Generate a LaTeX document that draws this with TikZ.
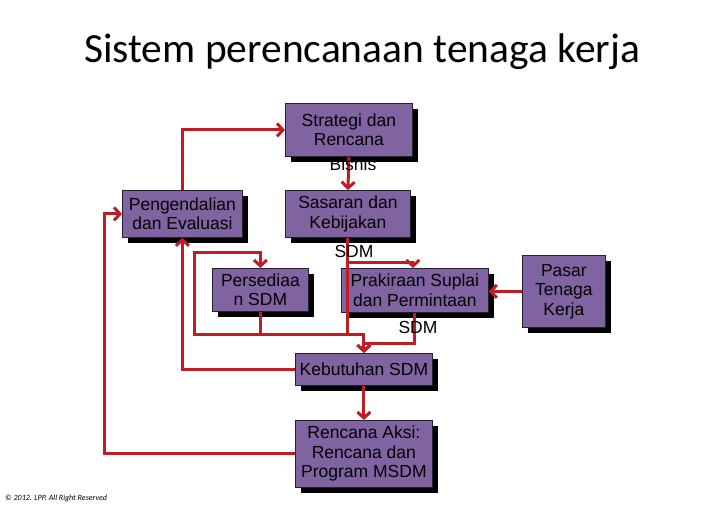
\documentclass[tikz,border=0pt]{standalone}
\usepackage{fontspec}
\setmainfont{Liberation Sans}
\newfontfamily\titlefont{Carlito}
\usetikzlibrary{arrows.meta,shadows}
\definecolor{boxpurple}{RGB}{128,100,162}
\definecolor{arrowred}{RGB}{190,30,35}
\definecolor{boxline}{RGB}{40,30,50}
\begin{document}
\begin{tikzpicture}[x=1pt,y=-1pt,
  procbox/.style={draw=boxline, line width=0.8pt, fill=boxpurple, anchor=north west,
    inner sep=0pt, align=center, text=black, font=\fontsize{17.5}{19.5}\selectfont,
    drop shadow={shadow xshift=6pt,shadow yshift=-6pt,fill=black,opacity=1}},
  flow/.style={draw=arrowred, line width=3pt, -{Straight Barb[length=6pt,width=13pt]}},
  extralabel/.style={font=\fontsize{17.5}{19.5}\selectfont, text=black, inner sep=0pt},
]
\useasboundingbox (0,0) rectangle (728,504);
\node[font=\titlefont\fontsize{41.5}{48}\selectfont, anchor=base] (title) at (362,62) {Sistem perencanaan tenaga kerja};

\node[procbox, minimum width=127pt, minimum height=53pt] (str) at (285,103) {Strategi dan\\Rencana};
\node[procbox, minimum width=120pt, minimum height=47pt] (pen) at (122,190) {Pengendalian\\dan Evaluasi};
\node[procbox, minimum width=125pt, minimum height=47pt] (sas) at (285,190) {Sasaran dan\\Kebijakan};
\node[procbox, minimum width=96pt, minimum height=43pt] (per) at (212,268) {Persediaa\\n SDM};
\node[procbox, minimum width=147pt, minimum height=44pt] (pra) at (341,268) {Prakiraan Suplai\\dan Permintaan};
\node[procbox, minimum width=83pt, minimum height=72pt] (pas) at (522,255) {Pasar\\Tenaga\\Kerja};
\node[procbox, minimum width=137pt, minimum height=32pt] (keb) at (295,353) {Kebutuhan SDM};
\node[procbox, minimum width=137pt, minimum height=67pt] (ren) at (295,420) {Rencana Aksi:\\Rencana dan\\Program MSDM};

\draw[flow] (str.south) -- (sas.north);
\draw[flow] (pen.north) |- (str.west);
\draw[flow] (sas.south) -- ++(0,25) -| ([xshift=-2pt]pra.north);
\draw[flow] (sas.south) -- ++(0,97) -| ++(-153,-82) -| (per.north);
\draw[flow] (per.south) -- ++(0,23) -| (keb.north);
\draw[flow] (pra.south) -- ++(0,31) -| (keb.north);
\draw[flow] (keb.west) -| (pen.south);
\draw[flow] (keb.south) -- (ren.north);
\draw[flow] (ren.west) -- ++(-191,0) |- (pen.west);
\draw[flow] (pas.west) -- (pas.west -| pra.east);

\node[extralabel] (bisnis) at (353,164) {Bisnis};
\node[extralabel] (sdma) at (354,251) {SDM};
\node[extralabel] (sdmb) at (418,327) {SDM};

\node[font=\titlefont\itshape\fontsize{8}{9}\selectfont, anchor=base west, inner sep=0pt] (copy) at (5,500) {© 2012. LPP. All Right Reserved};
\end{tikzpicture}
\end{document}
